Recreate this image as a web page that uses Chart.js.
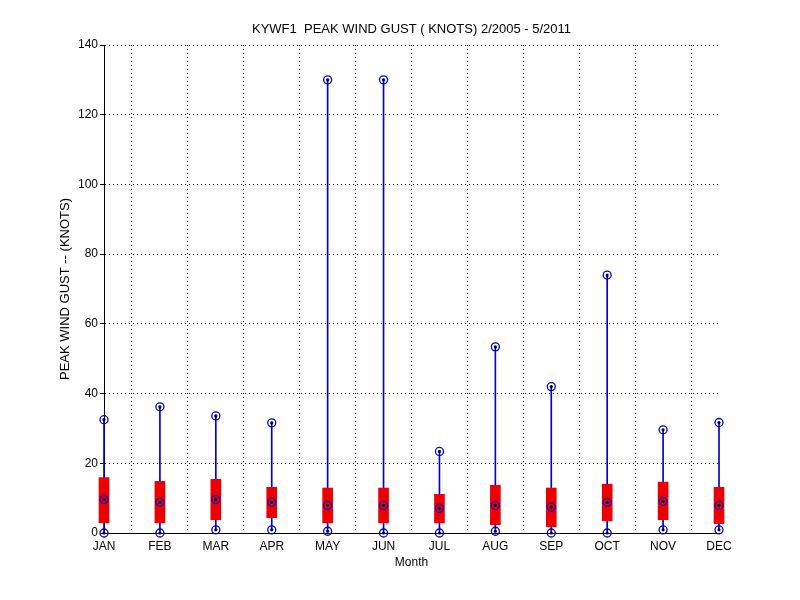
<!DOCTYPE html>
<html>
<head>
<meta charset="utf-8">
<script src="https://cdn.jsdelivr.net/npm/chart.js@4"></script>
<style>
  html, body { margin: 0; padding: 0; background: #fff; }
  #wrap { width: 800px; height: 600px; }
</style>
</head>
<body>
<div id="wrap"><canvas id="gust"></canvas></div>
<script>
// month labels for the x axis
var months = ["JAN", "FEB", "MAR", "APR", "MAY", "JUN", "JUL", "AUG", "SEP", "OCT", "NOV", "DEC"];

// peak wind gust (knots)
var gustMax = [32.5, 36.2, 33.6, 31.6, 130, 130, 23.4, 53.4, 42.0, 74.0, 29.6, 31.7];
var gustQ3  = [15.9, 14.8, 15.4, 13.1, 12.9, 12.9, 11.1, 13.7, 12.9, 14.0, 14.6, 13.1];
var gustMed = [9.6, 8.8, 9.6, 8.8, 7.9, 7.9, 7.1, 7.9, 7.4, 8.8, 9.1, 7.9];
var gustQ1  = [2.9, 2.9, 3.8, 4.4, 2.9, 2.9, 2.9, 2.4, 1.8, 3.5, 3.8, 2.7];
var gustMin = [0, 0, 0.9, 0.9, 0.5, 0, 0, 0.5, 0, 0, 0.9, 0.9];

// y axis tick values
var yTicks = [0, 20, 40, 60, 80, 100, 120, 140];

var FONT = "'Liberation Sans', Arial, Helvetica, sans-serif";
var BLUE = "#0000d0";
var RED = "#ee0000";

// build floating bar / point data from the arrays
function ranges(lo, hi) {
  return months.map(function(m, i) { return { x: i + 1, y: [lo[i], hi[i]] }; });
}
function points() {
  var pts = [];
  months.forEach(function(m, i) {
    pts.push({ x: i + 1, y: gustMin[i] });
    pts.push({ x: i + 1, y: gustMed[i] });
    pts.push({ x: i + 1, y: gustMax[i] });
  });
  return pts;
}

var ctx = document.getElementById("gust");
new Chart(ctx, {
  type: "bar",
  data: {
    datasets: [
      {
        // min -> max whisker
        type: "bar",
        data: ranges(gustMin, gustMax),
        backgroundColor: BLUE,
        barThickness: 1,
        grouped: false,
        order: 3,
        clip: false
      },
      {
        // interquartile box
        type: "bar",
        data: ranges(gustQ1, gustQ3),
        backgroundColor: RED,
        barThickness: 10,
        grouped: false,
        order: 2,
        clip: false
      },
      {
        // circle markers
        type: "scatter",
        data: points(),
        pointStyle: "circle",
        pointRadius: 4,
        pointBorderColor: BLUE,
        pointBackgroundColor: "rgba(0,0,0,0)",
        pointBorderWidth: 1.3,
        order: 1,
        clip: false
      },
      {
        // black dot inside each circle
        type: "scatter",
        data: points(),
        pointRadius: 1.6,
        pointBorderWidth: 0,
        pointBackgroundColor: "#000",
        order: 0,
        clip: false
      }
    ]
  },
  options: {
    responsive: true,
    maintainAspectRatio: false,
    animation: false,
    layout: { padding: { left: 0, right: 81, top: 0, bottom: 0 } },
    plugins: {
      legend: { display: false },
      tooltip: { enabled: false },
      title: {
        display: true,
        fullSize: false,
        text: "KYWF1  PEAK WIND GUST ( KNOTS) 2/2005 - 5/2011",
        color: "#000",
        font: { family: FONT, size: 13, weight: "normal" },
        padding: { top: 22, bottom: 7.4 },
        align: "center"
      }
    },
    scales: {
      x: {
        type: "linear",
        min: 1,
        max: 12,
        offset: false,
        afterFit: function(scale) { scale.height = 67; },
        ticks: {
          stepSize: 1,
          autoSkip: false,
          maxRotation: 0,
          padding: 6,
          color: "#000",
          font: { family: FONT, size: 12 },
          callback: function(v) { return months[v - 1]; }
        },
        grid: {
          color: "#000",
          lineWidth: 1,
          drawTicks: false
        },
        border: { display: true, color: "#000", width: 1, dash: [1, 3] },
        title: {
          display: true,
          text: "Month",
          color: "#000",
          font: { family: FONT, size: 12 },
          padding: { top: 0, bottom: 30 }
        }
      },
      y: {
        type: "linear",
        min: 0,
        max: 140,
        afterFit: function(scale) { scale.width = 104; },
        afterBuildTicks: function(scale) {
          scale.ticks = yTicks.map(function(v) { return { value: v }; });
        },
        ticks: {
          padding: 2,
          color: "#000",
          font: { family: FONT, size: 12 }
        },
        grid: {
          color: "#000",
          lineWidth: 1,
          tickLength: 4,
          tickBorderDash: [],
          tickColor: "#000"
        },
        border: { display: true, color: "#000", width: 1, dash: [1, 3] },
        title: {
          display: true,
          text: "PEAK WIND GUST -- (KNOTS)",
          color: "#000",
          font: { family: FONT, size: 13 },
          padding: { top: 58, bottom: 0 }
        }
      }
    }
  }
});
</script>
</body>
</html>
